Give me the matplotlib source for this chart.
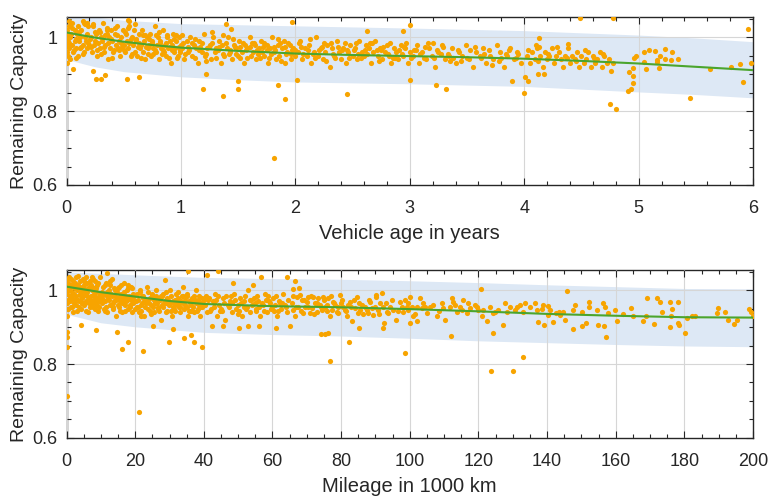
import matplotlib.pyplot as plt
from matplotlib.ticker import MultipleLocator, FuncFormatter

plt.rcParams['font.family'] = ['Liberation Sans', 'DejaVu Sans']

# --- capacity vs. vehicle age ---------------------------------------------
age_years = [
    0.00, 0.01, 0.01, 0.02, 0.02, 0.03, 0.03, 0.04, 0.05, 0.05,
    0.06, 0.07, 0.07, 0.08, 0.09, 0.10, 0.10, 0.11, 0.12, 0.12,
    0.13, 0.14, 0.15, 0.15, 0.16, 0.17, 0.18, 0.18, 0.19, 0.20,
    0.00, 0.00, 0.00, 0.00, 0.00, 0.21, 0.22, 0.23, 0.24, 0.25,
    0.26, 0.27, 0.28, 0.29, 0.30, 0.31, 0.32, 0.33, 0.34, 0.35,
    0.36, 0.37, 0.38, 0.39, 0.40, 0.41, 0.42, 0.43, 0.44, 0.45,
    0.46, 0.47, 0.48, 0.49, 0.50, 0.51, 0.52, 0.53, 0.54, 0.55,
    0.56, 0.57, 0.58, 0.59, 0.60, 0.215, 0.245, 0.275, 0.305, 0.335,
    0.365, 0.395, 0.425, 0.455, 0.485, 0.515, 0.545, 0.575, 0.605, 0.61,
    0.62, 0.63, 0.64, 0.65, 0.66, 0.67, 0.68, 0.69, 0.70, 0.71,
    0.72, 0.73, 0.74, 0.75, 0.76, 0.77, 0.78, 0.79, 0.80, 0.81,
    0.82, 0.83, 0.84, 0.85, 0.86, 0.87, 0.88, 0.89, 0.90, 0.91,
    0.92, 0.93, 0.94, 0.95, 0.96, 0.97, 0.98, 0.99, 1.00, 0.625,
    0.655, 0.685, 0.715, 0.745, 0.775, 0.805, 0.835, 0.865, 0.895, 0.925,
    0.955, 0.985, 1.01, 1.03, 1.05, 1.06, 1.08, 1.10, 1.11, 1.13,
    1.15, 1.16, 1.18, 1.20, 1.21, 1.23, 1.25, 1.26, 1.28, 1.30,
    1.31, 1.33, 1.35, 1.36, 1.38, 1.40, 1.41, 1.43, 1.45, 1.46,
    1.48, 1.50, 1.51, 1.53, 1.55, 1.56, 1.58, 1.60, 1.61, 1.63,
    1.65, 1.66, 1.68, 1.70, 1.71, 1.73, 1.75, 1.76, 1.78, 1.80,
    1.81, 1.83, 1.85, 1.86, 1.88, 1.90, 1.91, 1.93, 1.95, 1.96,
    1.98, 2.00, 1.02, 1.07, 1.12, 1.17, 1.22, 1.27, 1.32, 1.37,
    1.42, 1.47, 1.52, 1.57, 1.62, 1.67, 1.72, 1.77, 1.82, 1.87,
    1.92, 1.97, 2.02, 2.04, 2.06, 2.08, 2.10, 2.12, 2.14, 2.16,
    2.18, 2.20, 2.22, 2.24, 2.26, 2.28, 2.30, 2.32, 2.34, 2.36,
    2.38, 2.40, 2.42, 2.44, 2.46, 2.48, 2.50, 2.52, 2.54, 2.56,
    2.58, 2.60, 2.62, 2.64, 2.66, 2.68, 2.70, 2.72, 2.74, 2.76,
    2.78, 2.80, 2.82, 2.84, 2.86, 2.88, 2.90, 2.92, 2.94, 2.96,
    2.98, 3.00, 2.05, 2.15, 2.25, 2.35, 2.45, 2.55, 2.65, 2.75,
    2.85, 2.95, 3.03, 3.06, 3.08, 3.11, 3.14, 3.17, 3.19, 3.22,
    3.25, 3.28, 3.31, 3.34, 3.37, 3.40, 3.43, 3.46, 3.49, 3.52,
    3.55, 3.58, 3.61, 3.64, 3.67, 3.70, 3.73, 3.76, 3.79, 3.82,
    3.85, 3.88, 3.91, 3.94, 3.97, 3.05, 3.12, 3.20, 3.27, 3.35,
    3.42, 3.50, 3.57, 3.65, 3.72, 3.80, 3.87, 3.95, 4.02, 4.05,
    4.07, 4.09, 4.11, 4.14, 4.16, 4.18, 4.20, 4.22, 4.24, 4.26,
    4.28, 4.30, 4.32, 4.34, 4.36, 4.38, 4.40, 4.42, 4.44, 4.46,
    4.48, 4.50, 4.52, 4.54, 4.56, 4.58, 4.60, 4.62, 4.64, 4.66,
    4.68, 4.70, 4.72, 4.74, 4.76, 4.78, 4.03, 4.12, 4.21, 4.29,
    4.37, 4.45, 4.53, 4.61, 4.69,
]
capacity_age = [
    1.02, 0.95, 0.99, 1.03, 0.97, 1.00, 0.94, 1.01, 0.98, 1.04,
    0.96, 1.02, 0.99, 0.97, 1.01, 1.03, 0.95, 0.99, 1.00, 0.97,
    1.02, 0.98, 1.04, 0.96, 1.00, 0.99, 1.01, 0.97, 1.03, 0.98,
    0.93, 0.96, 0.98, 1.00, 1.01, 1.00, 0.96, 1.03, 0.98, 0.99,
    1.01, 0.95, 1.02, 0.97, 1.00, 0.99, 1.04, 0.96, 0.98, 1.01,
    0.94, 1.00, 0.97, 1.02, 0.99, 0.96, 1.01, 0.98, 1.03, 0.97,
    0.99, 0.95, 1.00, 1.02, 0.98, 0.96, 1.01, 0.99, 0.97, 1.03,
    0.95, 1.00, 0.98, 1.02, 0.96, 0.975, 1.015, 0.985, 0.955, 1.005,
    0.985, 0.945, 1.025, 0.965, 0.975, 1.015, 0.985, 0.955, 0.995, 0.99,
    0.95, 1.01, 0.97, 0.98, 1.02, 0.96, 0.99, 0.94, 1.00, 0.97,
    0.98, 1.01, 0.95, 0.99, 0.97, 1.03, 0.96, 0.98, 1.00, 0.94,
    0.99, 0.97, 1.02, 0.96, 0.98, 0.95, 1.00, 0.97, 0.99, 0.93,
    0.98, 1.01, 0.96, 0.97, 0.99, 0.95, 1.00, 0.96, 0.98, 0.975,
    0.945, 1.005, 0.955, 0.985, 0.965, 1.015, 0.955, 0.985, 0.945, 0.965,
    1.005, 0.975, 0.97, 0.94, 0.99, 0.96, 1.00, 0.95, 0.98, 0.97,
    0.93, 0.99, 0.96, 1.01, 0.95, 0.97, 0.98, 0.94, 1.00, 0.96,
    0.97, 0.99, 0.93, 0.98, 0.95, 0.97, 1.00, 0.96, 0.94, 0.98,
    0.97, 0.95, 0.99, 0.96, 0.93, 0.98, 0.97, 1.00, 0.95, 0.96,
    0.98, 0.94, 0.97, 0.99, 0.96, 0.95, 0.98, 0.93, 0.97, 1.00,
    0.96, 0.94, 0.98, 0.95, 0.97, 0.99, 0.93, 0.96, 0.98, 0.94,
    0.97, 0.95, 0.985, 0.965, 0.945, 0.975, 0.955, 0.985, 0.965, 1.005,
    0.955, 0.975, 0.945, 0.965, 0.985, 0.955, 0.975, 0.945, 0.965, 0.985,
    0.955, 0.965, 0.96, 0.99, 0.94, 0.97, 0.95, 0.98, 0.93, 0.96,
    1.00, 0.95, 0.97, 0.94, 0.96, 0.98, 0.92, 0.97, 0.95, 0.99,
    0.96, 0.94, 0.97, 0.93, 0.96, 0.98, 0.95, 0.97, 0.94, 0.99,
    0.96, 0.95, 0.98, 0.97, 0.93, 0.96, 0.99, 0.95, 0.97, 0.94,
    0.96, 0.98, 0.95, 0.93, 0.97, 0.96, 0.94, 0.98, 0.95, 0.97,
    0.93, 0.96, 0.975, 0.955, 0.985, 0.945, 0.965, 0.955, 0.985, 0.965,
    0.945, 0.975, 0.95, 0.98, 0.93, 0.96, 0.94, 0.97, 0.95, 0.92,
    0.96, 0.98, 0.94, 0.95, 0.97, 0.93, 0.96, 0.95, 0.98, 0.94,
    0.92, 0.96, 0.95, 0.97, 0.93, 0.95, 0.94, 0.98, 0.96, 0.92,
    0.95, 0.97, 0.94, 0.96, 0.93, 0.965, 0.945, 0.985, 0.955, 0.935,
    0.965, 0.945, 0.975, 0.955, 0.925, 0.945, 0.965, 0.955, 0.95, 0.93,
    0.96, 0.94, 0.97, 0.95, 0.92, 0.96, 0.94, 0.95, 0.97, 0.93,
    0.95, 0.96, 0.94, 0.92, 0.95, 0.97, 0.93, 0.95, 0.94, 0.96,
    0.92, 0.95, 0.93, 0.94, 0.96, 0.92, 0.95, 0.93, 0.94, 0.96,
    0.92, 0.95, 0.93, 0.94, 0.91, 0.93, 0.965, 0.935, 0.955, 0.975,
    0.945, 0.935, 0.965, 0.945, 0.955,
]
# extra readings inside the densest part of the cloud
age_fill = [
    0.005, 0.025, 0.045, 0.065, 0.085, 0.105, 0.125, 0.145, 0.165, 0.185,
    0.205, 0.235, 0.265, 0.295, 0.325, 0.355, 0.385, 0.415, 0.445, 0.475,
    0.505, 0.535, 0.565, 0.595, 0.635, 0.665, 0.695, 0.725, 0.755, 0.785,
    0.815, 0.845, 0.875, 0.905, 0.935, 0.965, 0.995, 0.02, 0.08, 0.14,
    1.005, 1.035, 1.065, 1.095, 1.125, 1.155, 1.185, 1.215, 1.245, 1.275,
    1.305, 1.335, 1.365, 1.395, 1.425, 1.455, 1.485, 1.515, 1.545, 1.575,
    1.605, 1.635, 1.665, 1.695, 1.725, 1.755, 1.785, 1.815, 1.845, 1.875,
    1.905, 1.935, 1.965, 1.995, 2.03, 2.07, 2.11, 2.13, 2.17, 2.21,
    2.23, 2.27, 2.31, 2.33, 2.37, 2.41, 2.43, 2.47, 2.51, 2.53,
    2.57, 2.61, 2.63, 2.67, 2.71, 2.73, 2.77, 2.81, 2.83, 2.87,
    2.91, 2.93, 2.97, 3.01, 3.04, 3.09, 3.13, 3.16, 3.21, 3.24,
    3.29, 3.33, 3.38, 3.45, 3.53, 3.62, 3.69, 3.78, 3.84, 3.93,
]
capacity_age_fill = [
    1.005, 0.985, 1.025, 0.965, 0.995, 1.015, 0.975, 0.955, 1.035, 0.985,
    0.995, 1.035, 0.965, 1.015, 0.975, 1.025, 0.995, 0.965, 1.005, 0.985,
    0.965, 1.025, 0.995, 1.035, 0.985, 1.005, 0.975, 0.995, 0.955, 1.005,
    0.985, 0.965, 1.005, 0.975, 0.995, 0.945, 0.965, 1.045, 0.945, 1.045,
    1.005, 0.955, 0.975, 0.985, 0.995, 0.965, 0.985, 0.935, 0.975, 1.015,
    0.945, 0.975, 0.955, 0.985, 0.965, 0.995, 0.955, 0.975, 0.985, 0.945,
    0.975, 0.985, 0.965, 0.945, 0.985, 0.965, 0.955, 0.975, 0.995, 0.935,
    0.975, 0.985, 0.955, 0.965, 0.985, 0.955, 0.965, 0.995, 0.945, 0.965,
    0.975, 0.935, 0.985, 0.955, 0.975, 0.965, 0.985, 0.945, 0.965, 0.985,
    0.945, 0.965, 0.955, 0.985, 0.965, 0.935, 0.975, 0.955, 0.985, 0.945,
    0.965, 0.955, 0.985, 0.945, 0.965, 0.955, 0.975, 0.985, 0.945, 0.965,
    0.975, 0.955, 0.945, 0.935, 0.965, 0.945, 0.965, 0.935, 0.955, 0.945,
]
# isolated vehicles away from the main cloud
age_sparse = [
    0.06, 0.23, 0.255, 0.30, 0.34, 0.53, 0.63, 1.19, 1.37, 1.50,
    1.50, 1.22, 1.85, 1.91, 1.81, 1.39, 0.55, 1.44, 1.97, 2.45,
    3.23, 3.32, 3.00, 2.01, 2.63, 2.94, 3.00, 4.00, 3.89, 4.49,
    4.78, 4.75, 4.80, 4.91, 4.93, 4.95, 4.95, 4.92, 4.95, 4.96,
    4.98, 5.05, 5.09, 5.14, 5.23, 5.29, 5.34, 5.28, 5.23, 5.16,
    5.16, 5.18, 5.06, 5.05, 5.19, 5.45, 5.62, 5.81, 5.89, 5.91,
    5.98, 5.96, 4.01, 4.03, 4.13, 4.38, 4.10, 4.13, 4.12, 4.17,
    0.18, 0.35, 0.54,
]
capacity_age_sparse = [
    0.913, 0.908, 0.888, 0.888, 0.898, 0.886, 0.892, 0.861, 0.841, 0.860,
    0.881, 0.900, 0.871, 0.834, 0.674, 1.035, 1.043, 1.023, 1.041, 0.847,
    0.871, 0.860, 0.883, 0.884, 1.016, 1.016, 1.033, 0.848, 0.881, 1.052,
    1.052, 0.820, 0.807, 0.854, 0.860, 0.875, 0.895, 0.906, 0.918, 0.945,
    0.950, 0.959, 0.966, 0.963, 0.968, 0.959, 0.942, 0.938, 0.942, 0.938,
    0.933, 0.918, 0.914, 0.932, 0.949, 0.835, 0.914, 0.920, 0.927, 0.878,
    0.929, 1.022, 0.893, 0.881, 0.997, 0.983, 0.979, 0.974, 0.900, 0.900,
    1.038, 1.019, 1.046,
]
fit_age = [0, 0.25, 0.5, 0.75, 1, 1.5, 2, 2.5, 3, 3.5, 4, 4.5, 5, 5.5, 6]
fit_capacity_age = [1.013, 0.999, 0.988, 0.979, 0.972, 0.963, 0.956, 0.952,
                    0.949, 0.946, 0.942, 0.936, 0.929, 0.920, 0.911]
band_age = [0, 0.25, 0.5, 1, 1.5, 2, 3, 4, 5, 5.5, 6]
band_age_low = [0.940, 0.920, 0.907, 0.893, 0.885, 0.879, 0.874, 0.867, 0.852, 0.845, 0.836]
band_age_high = [1.065, 1.055, 1.046, 1.037, 1.034, 1.031, 1.025, 1.018, 1.006, 0.998, 0.988]

# --- capacity vs. mileage (1000 km) ---------------------------------------
mileage_kkm = [
    0.0, 0.3, 0.5, 0.8, 1.0, 1.3, 1.5, 1.8, 2.0, 2.3,
    2.5, 2.8, 3.0, 3.3, 3.5, 3.8, 4.0, 4.3, 4.5, 4.8,
    5.0, 5.3, 5.5, 5.8, 6.0, 6.3, 6.5, 6.8, 7.0, 7.3,
    7.5, 7.8, 8.0, 8.3, 8.5, 8.8, 9.0, 9.3, 9.5, 9.8,
    0.1, 0.6, 1.1, 1.6, 2.1, 2.6, 3.1, 3.6, 4.1, 4.6,
    5.1, 5.6, 6.1, 6.6, 7.1, 7.6, 8.1, 8.6, 9.1, 9.6,
    0.0, 0.0, 0.0, 0.0, 0.0, 0.0, 10.2, 10.5, 10.8, 11.0,
    11.3, 11.6, 11.9, 12.2, 12.5, 12.8, 13.0, 13.3, 13.6, 13.9,
    14.2, 14.5, 14.8, 15.0, 15.3, 15.6, 15.9, 16.2, 16.5, 16.8,
    17.0, 17.3, 17.6, 17.9, 18.2, 18.5, 18.8, 19.0, 19.3, 19.6,
    19.9, 10.4, 11.1, 11.8, 12.6, 13.4, 14.1, 14.9, 15.7, 16.4,
    17.2, 17.9, 18.7, 19.4, 20.2, 20.6, 21.0, 21.4, 21.8, 22.2,
    22.6, 23.0, 23.4, 23.8, 24.2, 24.6, 25.0, 25.4, 25.8, 26.2,
    26.6, 27.0, 27.4, 27.8, 28.2, 28.6, 29.0, 29.4, 29.8, 30.2,
    30.6, 31.0, 31.4, 31.8, 32.2, 32.6, 33.0, 33.4, 33.8, 34.2,
    34.6, 35.0, 35.4, 35.8, 36.2, 36.6, 37.0, 37.4, 37.8, 38.2,
    38.6, 39.0, 39.4, 39.8, 20.8, 21.9, 23.1, 24.3, 25.5, 26.7,
    27.9, 29.1, 30.3, 31.5, 32.7, 33.9, 35.1, 36.3, 37.5, 38.7,
    39.6, 40.3, 40.9, 41.5, 42.1, 42.7, 43.3, 43.9, 44.5, 45.1,
    45.7, 46.3, 46.9, 47.5, 48.1, 48.7, 49.3, 49.9, 50.5, 51.1,
    51.7, 52.3, 52.9, 53.5, 54.1, 54.7, 55.3, 55.9, 56.5, 57.1,
    57.7, 58.3, 58.9, 59.5, 60.1, 60.7, 61.3, 61.9, 62.5, 63.1,
    63.7, 64.3, 41.2, 42.9, 44.7, 46.4, 48.2, 49.9, 51.7, 53.4,
    55.2, 56.9, 58.7, 60.4, 62.2, 63.9,
]
capacity_mileage = [
    0.99, 1.02, 0.95, 1.00, 0.97, 1.03, 0.98, 1.01, 0.94, 0.99,
    1.02, 0.96, 1.00, 1.04, 0.97, 0.99, 1.01, 0.95, 0.98, 1.03,
    0.96, 1.00, 0.99, 0.97, 1.02, 0.94, 0.98, 1.01, 0.96, 1.00,
    0.97, 1.03, 0.99, 0.95, 1.01, 0.98, 0.96, 1.02, 0.97, 0.99,
    0.965, 1.005, 0.985, 0.955, 1.015, 0.975, 0.945, 1.005, 0.985, 0.965,
    1.025, 0.945, 0.985, 0.965, 1.015, 0.955, 0.975, 1.005, 0.945, 0.985,
    0.93, 0.95, 0.97, 1.00, 1.02, 1.03, 0.98, 1.01, 0.95, 0.99,
    0.97, 1.02, 0.94, 0.98, 1.00, 0.96, 0.99, 1.03, 0.95, 0.97,
    1.00, 0.93, 0.98, 0.96, 1.01, 0.97, 0.99, 0.94, 0.98, 1.02,
    0.96, 0.97, 1.00, 0.95, 0.98, 0.96, 1.01, 0.94, 0.99, 0.97,
    0.95, 0.965, 0.945, 0.985, 1.015, 0.965, 0.985, 1.005, 0.945, 0.965,
    0.985, 1.015, 0.975, 0.985, 0.97, 0.99, 0.94, 1.00, 0.96, 0.98,
    0.93, 0.97, 1.01, 0.95, 0.98, 0.96, 0.99, 0.94, 0.97, 1.00,
    0.95, 0.98, 0.92, 0.96, 0.99, 0.97, 0.94, 0.98, 0.96, 1.00,
    0.93, 0.97, 0.95, 0.99, 0.96, 0.98, 0.94, 0.97, 1.01, 0.95,
    0.96, 0.99, 0.93, 0.97, 0.96, 0.98, 0.94, 0.97, 1.00, 0.95,
    0.96, 0.93, 0.98, 0.96, 0.955, 0.985, 0.965, 0.945, 0.975, 0.955,
    0.985, 0.965, 0.945, 0.975, 0.955, 0.985, 0.955, 0.945, 0.975, 0.985,
    0.955, 0.96, 0.94, 0.98, 0.95, 0.97, 0.99, 0.93, 0.96, 0.95,
    0.98, 0.92, 0.96, 0.97, 0.94, 0.99, 0.95, 0.96, 0.98, 0.93,
    0.97, 0.95, 1.00, 0.94, 0.96, 0.98, 0.95, 0.97, 0.93, 0.96,
    0.99, 0.94, 0.97, 0.95, 0.98, 0.96, 0.93, 0.97, 0.95, 0.99,
    0.96, 0.94, 0.975, 0.955, 0.945, 0.985, 0.965, 0.935, 0.955, 0.975,
    0.945, 0.965, 0.985, 0.945, 0.965, 0.955,
]
mileage_fill = [
    0.2, 0.4, 0.7, 0.9, 1.2, 1.4, 1.7, 1.9, 2.2, 2.4,
    2.7, 2.9, 3.2, 3.4, 3.7, 3.9, 4.2, 4.4, 4.7, 4.9,
    5.2, 5.4, 5.7, 5.9, 6.2, 6.4, 6.7, 6.9, 7.2, 7.4,
    7.7, 7.9, 8.2, 8.4, 8.7, 8.9, 9.2, 9.4, 9.7, 9.9,
    10.3, 10.7, 11.2, 11.5, 11.9, 12.3, 12.7, 13.2, 13.5, 13.8,
    14.3, 14.7, 15.2, 15.5, 15.9, 16.3, 16.7, 17.1, 17.5, 17.8,
    18.3, 18.6, 19.1, 19.5, 19.8, 20.4, 20.9, 21.3, 21.7, 22.0,
    22.4, 22.9, 23.3, 23.6, 24.0, 24.5, 24.9, 25.3, 25.7, 26.0,
    26.4, 26.9, 27.2, 27.6, 28.0, 28.4, 28.9, 29.2, 29.6, 30.0,
    30.4, 30.9, 31.2, 31.6, 32.0, 32.4, 32.9, 33.2, 33.6, 34.0,
    34.4, 34.9, 35.2, 35.6, 36.0, 36.4, 36.9, 37.2, 37.6, 38.0,
    38.4, 38.9, 39.2, 40.0, 40.6, 41.8, 43.0, 43.6, 44.2, 45.4,
    46.0, 47.2, 47.8, 49.0, 50.2, 50.8, 52.0, 52.6, 53.8, 55.0,
    55.6, 56.2, 57.4, 58.0, 59.2, 59.8, 61.0, 61.6, 62.8, 64.6,
    65.9, 66.9, 68.2, 69.2, 70.2, 71.1, 72.1, 73.1, 74.0, 75.0,
    76.0, 77.0, 78.0, 79.0, 80.3, 81.3, 82.8, 83.8, 85.3, 86.4,
    88.0, 89.8, 91.0, 93.0, 94.8, 96.5, 99.4, 101.5, 104.3, 108.5,
]
capacity_mileage_fill = [
    1.005, 0.975, 1.035, 0.985, 1.015, 0.955, 0.995, 1.025, 0.965, 1.005,
    0.985, 1.035, 0.975, 1.015, 0.955, 1.025, 0.995, 0.965, 1.005, 0.985,
    1.015, 0.965, 1.035, 0.995, 0.975, 1.005, 0.955, 1.025, 0.985, 0.965,
    1.005, 0.985, 1.025, 0.965, 0.995, 1.015, 0.975, 0.955, 1.035, 0.985,
    0.995, 0.975, 1.015, 0.955, 0.995, 0.975, 1.025, 0.985, 0.955, 1.005,
    0.975, 0.995, 0.955, 0.985, 1.015, 0.965, 0.995, 0.945, 0.975, 1.005,
    0.985, 0.955, 1.005, 0.965, 0.985, 0.955, 0.975, 0.995, 0.945, 0.965,
    0.985, 0.955, 0.975, 0.995, 0.965, 0.935, 0.985, 0.955, 0.965, 0.985,
    0.965, 0.945, 0.975, 0.985, 0.955, 0.965, 0.995, 0.945, 0.975, 0.965,
    0.985, 0.955, 0.965, 0.945, 0.975, 0.995, 0.965, 0.955, 0.985, 0.965,
    0.975, 0.955, 0.985, 0.945, 0.965, 0.975, 0.955, 0.985, 0.965, 0.945,
    0.975, 0.955, 0.965, 0.975, 0.985, 0.945, 0.965, 0.975, 0.985, 0.945,
    0.965, 0.955, 0.985, 0.975, 0.945, 0.965, 0.985, 0.955, 0.975, 0.965,
    0.985, 0.955, 0.945, 0.975, 0.965, 0.955, 0.985, 0.945, 0.965, 0.975,
    0.985, 0.955, 0.945, 0.975, 0.955, 0.985, 0.935, 0.965, 0.955, 0.975,
    0.945, 0.985, 0.965, 0.955, 0.975, 0.945, 0.955, 0.975, 0.965, 0.935,
    0.975, 0.955, 0.935, 0.965, 0.975, 0.945, 0.965, 0.935, 0.955, 0.945,
]
mileage_mid = [
    67.0, 68.5, 69.5, 70.4, 70.9, 72.4, 73.4, 74.3, 74.8, 75.8,
    76.8, 77.7, 78.7, 79.7, 80.6, 81.6, 82.6, 83.1, 84.5, 85.0,
    86.0, 87.4, 88.4, 89.4, 90.2, 91.3, 91.8, 93.3, 94.2, 96.0,
    97.1, 98.1, 99.1, 100.2, 101.0, 102.0, 103.0, 103.9, 104.9, 105.9,
    107.8, 109.3, 110.3, 111.7, 112.7, 113.7, 114.6, 115.6, 116.6, 117.5,
    119.0, 120.0, 120.9, 122.4, 123.4, 124.8, 125.8, 127.2, 127.7, 129.2,
    130.6, 132.1, 133.1, 65.6, 66.1, 66.6, 67.5, 68.0, 69.0, 70.0,
    71.4, 71.9, 72.9, 73.8, 75.3, 76.3, 77.2, 78.2, 79.2, 80.1,
    81.1, 82.1, 84.0, 85.5, 86.9, 87.9, 88.9, 90.3, 90.8, 92.3,
    93.7, 95.2, 97.6, 98.6, 99.6, 100.5, 103.5, 106.9, 109.8, 112.2,
    113.2, 115.1, 117.0, 119.5, 121.4, 124.3, 128.2, 131.1,
]
capacity_mid = [
    0.983, 0.974, 0.956, 0.983, 0.938, 0.965, 0.978, 0.947, 0.983, 0.960,
    0.929, 0.969, 0.942, 0.988, 0.956, 0.929, 0.969, 0.916, 0.983, 0.938,
    0.960, 0.947, 0.969, 0.933, 0.988, 0.965, 0.992, 0.942, 0.956, 0.920,
    0.969, 0.942, 0.956, 0.983, 0.929, 0.956, 0.978, 0.965, 0.938, 0.956,
    0.929, 0.965, 0.920, 0.956, 0.969, 0.942, 0.956, 0.974, 0.938, 0.951,
    0.960, 0.947, 0.929, 0.916, 0.956, 0.942, 0.947, 0.907, 0.965, 0.956,
    0.947, 0.960, 0.942, 0.965, 0.947, 0.929, 0.956, 0.988, 0.938, 0.969,
    0.951, 0.983, 0.942, 0.960, 0.956, 0.978, 0.947, 0.960, 0.938, 0.965,
    0.947, 0.960, 0.951, 0.947, 0.956, 0.938, 0.951, 0.983, 0.947, 0.956,
    0.938, 0.947, 0.956, 0.974, 0.947, 0.956, 0.951, 0.960, 0.951, 0.978,
    0.960, 0.947, 0.965, 0.956, 0.947, 0.938, 0.942, 0.956,
]
mileage_far = [
    145.8, 147.6, 157.3, 180.1, 169.1, 172.0, 175.9, 178.2, 189.9, 198.8,
    135.1, 136.4, 133.6, 137.3, 139.2, 150.2, 151.2, 154.8, 156.7, 171.1,
    175.7, 178.4, 192.8, 194.4, 195.4, 189.6, 191.9, 183.2, 180.8, 199.5,
    200.0, 152.3, 152.3, 154.6, 156.4, 157.0, 157.7, 159.8, 160.3, 162.2,
    164.5, 165.1, 168.0, 168.8, 172.9, 173.4, 176.0, 176.4, 178.2, 182.3,
    147.6, 148.1, 150.1, 142.6, 143.6, 144.7, 140.3, 140.3, 138.7, 140.7,
    141.8, 143.8, 145.2, 137.0, 138.4,
]
capacity_far = [
    0.998, 0.894, 0.872, 0.883, 0.978, 0.978, 0.967, 0.967, 0.953, 0.948,
    0.956, 0.965, 0.965, 0.913, 0.907, 0.903, 0.911, 0.906, 0.902, 0.908,
    0.900, 0.906, 0.919, 0.908, 0.919, 0.938, 0.940, 0.929, 0.926, 0.942,
    0.929, 0.969, 0.956, 0.947, 0.965, 0.956, 0.939, 0.947, 0.918, 0.936,
    0.953, 0.930, 0.918, 0.929, 0.967, 0.942, 0.929, 0.949, 0.910, 0.929,
    0.947, 0.960, 0.942, 0.938, 0.942, 0.940, 0.957, 0.933, 0.960, 0.947,
    0.915, 0.933, 0.919, 0.947, 0.949,
]
mileage_sparse = [
    0.2, 0.2, 0.2, 0.2, 4.2, 8.5, 14.8, 16.2, 17.8, 22.4,
    21.2, 29.9, 34.2, 36.3, 37.0, 39.6, 35.3, 44.0, 56.6, 64.2,
    21.7, 25.3, 31.1, 42.3, 45.7, 50.1, 53.0, 56.2, 61.1, 65.2,
    76.8, 82.2, 85.1, 98.7, 112.1, 120.7, 123.7, 124.3, 130.1, 133.0,
    74.1, 75.4, 76.3, 66.6, 67.8, 66.0, 92.2, 92.4, 100.1, 102.1,
    11.7, 7.3, 28.7, 40.8, 48.6, 54.4,
]
capacity_mileage_sparse = [
    0.888, 0.874, 0.847, 0.714, 0.907, 0.892, 0.886, 0.841, 0.861, 0.834,
    0.671, 0.861, 0.871, 0.880, 0.861, 0.846, 1.053, 1.053, 1.035, 1.035,
    0.929, 0.902, 0.895, 0.904, 0.902, 0.897, 0.902, 0.902, 0.897, 0.902,
    0.807, 0.861, 0.897, 0.831, 0.877, 1.004, 0.781, 0.885, 0.781, 0.818,
    0.882, 0.882, 0.883, 1.025, 1.005, 1.003, 0.897, 0.911, 0.911, 0.918,
    1.046, 1.037, 1.028, 1.042, 1.019, 1.015,
]
fit_mileage = [0, 10, 20, 30, 40, 60, 80, 100, 120, 140, 160, 180, 200]
fit_capacity_mileage = [1.010, 0.995, 0.983, 0.971, 0.963, 0.957, 0.954,
                        0.949, 0.943, 0.936, 0.931, 0.927, 0.926]
band_mileage = [0, 10, 20, 40, 60, 80, 100, 120, 140, 160, 180, 200]
band_mileage_low = [0.935, 0.912, 0.901, 0.886, 0.880, 0.876, 0.870, 0.863, 0.858, 0.853, 0.849, 0.847]
band_mileage_high = [1.050, 1.046, 1.042, 1.035, 1.032, 1.030, 1.026, 1.021, 1.015, 1.010, 1.005, 1.004]

DOT = '#f7a400'
FIT = '#4ba52d'
BAND = '#dde8f5'
INK = '#262626'


def draw_panel(ax, xs, ys, fit_x, fit_y, band_x, band_lo, band_hi,
               xmax, major, minor, xlabel):
    """Scatter of remaining capacity with fitted trend and spread band."""
    ax.fill_between(band_x, band_lo, band_hi, color=BAND, lw=0, zorder=1)
    for x, y in zip(xs, ys):
        ax.scatter(x, y, s=14, color=DOT, lw=0, zorder=3)
    ax.plot(fit_x, fit_y, color=FIT, lw=1.5, zorder=4)

    ax.set_xlim(0, xmax)
    ax.set_ylim(0.6, 1.055)
    ax.xaxis.set_major_locator(MultipleLocator(major))
    ax.xaxis.set_minor_locator(MultipleLocator(minor))
    ax.yaxis.set_major_locator(MultipleLocator(0.2))
    ax.yaxis.set_minor_locator(MultipleLocator(0.05))
    ax.yaxis.set_major_formatter(FuncFormatter(lambda v, _: f'{v:g}'))

    ax.set_axisbelow(False)
    ax.grid(which='major', color='#d6d6d6', lw=0.8)
    ax.grid(which='minor', visible=False)
    ax.tick_params(which='major', direction='in', top=True, right=True,
                   bottom=True, left=True, length=5, width=0.8,
                   color=INK, labelcolor=INK, labelsize=13)
    ax.tick_params(which='minor', direction='in', top=True, right=True,
                   bottom=True, left=True, length=3, width=0.8, color=INK)
    ax.tick_params(axis='x', which='major', pad=11)
    ax.tick_params(axis='y', which='major', pad=6.5)
    for spine in ax.spines.values():
        spine.set_color(INK)
        spine.set_linewidth(1.0)

    ax.set_xlabel(xlabel, fontsize=14.5, color=INK, labelpad=5)
    ax.set_ylabel('Remaining Capacity', fontsize=14, color=INK, labelpad=3)


fig = plt.figure(figsize=(7.7, 4.99), dpi=100)
ax_age = fig.add_axes([0.0864, 0.6293, 0.8916, 0.3367])
ax_km = fig.add_axes([0.0864, 0.1228, 0.8916, 0.3360])

draw_panel(ax_age,
           [age_years, age_fill, age_sparse],
           [capacity_age, capacity_age_fill, capacity_age_sparse],
           fit_age, fit_capacity_age, band_age, band_age_low, band_age_high,
           6, 1, 0.2, 'Vehicle age in years')
draw_panel(ax_km,
           [mileage_kkm, mileage_fill, mileage_mid, mileage_far, mileage_sparse],
           [capacity_mileage, capacity_mileage_fill, capacity_mid, capacity_far,
            capacity_mileage_sparse],
           fit_mileage, fit_capacity_mileage, band_mileage, band_mileage_low,
           band_mileage_high, 200, 20, 5, 'Mileage in 1000 km')

fig.savefig('out.png', dpi=100)
